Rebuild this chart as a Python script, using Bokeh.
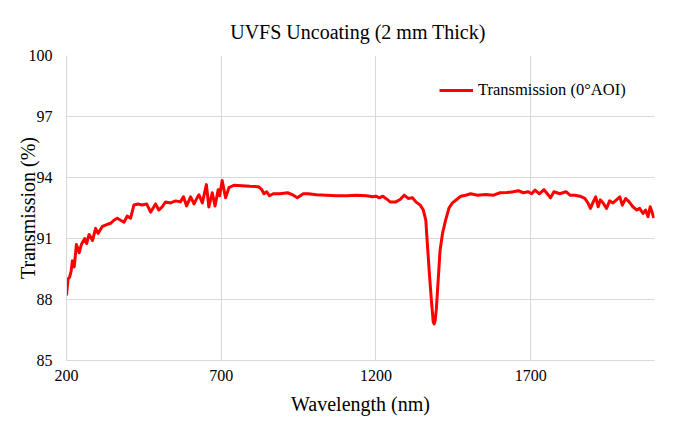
from bokeh.plotting import figure
from bokeh.models import Range1d, FixedTicker, Legend, LegendItem
from bokeh.embed import file_html
from bokeh.resources import INLINE

title_text = "UVFS Uncoating (2 mm  Thick)"
x_label = "Wavelength (nm)"
y_label = "Transmission (%)"
series_name = "Transmission (0°AOI)"

x_ticks = [200, 700, 1200, 1700]
y_ticks = [85, 88, 91, 94, 97, 100]

wavelength = [
    200, 205, 210, 215, 219, 225, 232, 241, 248, 259, 265, 273, 284, 294, 302, 316,
    332, 343, 353, 364, 375, 386, 396, 407, 418, 431, 445, 459, 472, 488, 498, 509,
    520, 536, 553, 568, 578, 588, 601, 612, 622, 628, 639, 652, 660, 671, 680, 690,
    695, 703, 714, 725, 741, 767, 793, 820, 831, 838, 847, 856, 868, 890, 914, 933,
    946, 965, 981, 1008, 1040, 1072, 1105, 1137, 1169, 1190, 1200, 1211, 1222, 1232,
    1246, 1264, 1278, 1291, 1304, 1318, 1329, 1343, 1353, 1361, 1366, 1372, 1379,
    1385, 1388, 1391, 1395, 1401, 1407, 1415, 1425, 1436, 1447, 1461, 1474, 1490,
    1506, 1528, 1554, 1580, 1601, 1623, 1644, 1660, 1676, 1692, 1703, 1714, 1728,
    1743, 1751, 1764, 1775, 1794, 1814, 1827, 1843, 1859, 1875, 1886, 1893, 1902,
    1910, 1918, 1925, 1934, 1945, 1955, 1966, 1977, 1988, 1996, 2007, 2018, 2030,
    2043, 2052, 2063, 2071, 2079, 2086, 2092, 2098,
]
transmission = [
    88.2, 89.0, 89.1, 89.4, 89.9, 89.6, 90.7, 90.3, 90.7, 91.0, 90.75, 91.2, 90.9, 91.5, 91.25, 91.6,
    91.7, 91.75, 91.9, 92.0, 91.9, 91.8, 92.1, 92.0, 92.65, 92.7, 92.65, 92.7, 92.3, 92.7, 92.4, 92.55,
    92.8, 92.75, 92.85, 92.8, 93.05, 92.6, 93.05, 92.7, 93.0, 93.15, 92.75, 93.65, 92.55, 93.25, 92.6, 93.4,
    93.1, 93.85, 93.0, 93.5, 93.62, 93.6, 93.57, 93.55, 93.4, 93.2, 93.3, 93.1, 93.2, 93.2, 93.25, 93.13,
    93.0, 93.2, 93.2, 93.15, 93.13, 93.1, 93.1, 93.13, 93.1, 93.05, 93.08, 93.0, 93.08, 92.97,
    92.8, 92.8, 92.92, 93.13, 92.97, 93.0, 92.8, 92.64, 92.4, 91.9, 90.75, 89.4, 87.97,
    86.9, 86.8, 86.95, 87.5, 88.95, 90.4, 91.25, 91.9, 92.5, 92.75, 92.92, 93.08, 93.13,
    93.2, 93.13, 93.16, 93.13, 93.25, 93.26, 93.3, 93.35, 93.25, 93.3, 93.2, 93.38, 93.2,
    93.4, 93.25, 93.0, 93.3, 93.2, 93.3, 93.13, 93.13, 93.08, 92.97, 92.72, 92.48, 92.8,
    93.05, 92.56, 92.9, 92.75, 92.48, 92.85, 92.75, 92.9, 93.05, 92.64, 92.97, 92.8, 92.56,
    92.4, 92.48, 92.23, 92.4, 92.07, 92.56, 92.3, 92.0,
]

FONT = "Liberation Serif"
GRID = "#d9d9d9"
RED = "#ff0000"

p = figure(width=679, height=419, output_backend="svg", toolbar_location=None,
           x_range=Range1d(200, 2100), y_range=Range1d(85, 100),
           min_border_left=66, min_border_right=25, min_border_top=55, min_border_bottom=59)

p.title.text = title_text
p.title.align = "center"
p.title.text_font = FONT
p.title.text_font_size = "20px"
p.title.text_font_style = "normal"
p.title.text_color = "#000000"
p.title.offset = 0
p.title.standoff = 25

p.outline_line_color = None
p.background_fill_color = "white"
p.border_fill_color = "white"

p.xaxis.ticker = FixedTicker(ticks=x_ticks)
p.yaxis.ticker = FixedTicker(ticks=y_ticks)
for ax in (p.xaxis[0], p.yaxis[0]):
    ax.axis_line_color = GRID
    ax.major_tick_line_color = None
    ax.minor_tick_line_color = None
    ax.major_label_text_font = FONT
    ax.major_label_text_font_size = "16px"
    ax.major_label_text_color = "#000000"
    ax.axis_label_text_font = FONT
    ax.axis_label_text_font_size = "20px"
    ax.axis_label_text_font_style = "normal"
    ax.axis_label_text_color = "#000000"

p.xaxis.axis_label = x_label
p.yaxis.axis_label = y_label
p.xaxis.major_label_standoff = 3
p.xaxis.axis_label_standoff = 9
p.yaxis.major_label_standoff = 8
p.yaxis.axis_label_standoff = -13

p.xgrid.grid_line_color = GRID
p.ygrid.grid_line_color = GRID
p.xgrid.grid_line_width = 1
p.ygrid.grid_line_width = 1

r = p.line(wavelength, transmission, line_color=RED, line_width=3, line_join="round")

legend = Legend(items=[LegendItem(label=series_name, renderers=[r])],
                location=(373, 260), orientation="vertical")
legend.border_line_alpha = 0
legend.background_fill_alpha = 0
legend.padding = 0
legend.margin = 0
legend.glyph_width = 34
legend.label_standoff = 5
legend.label_text_font = FONT
legend.label_text_font_size = "16.5px"
legend.label_text_color = "#000000"
p.add_layout(legend)

open("out.html", "w").write(file_html(p, INLINE))
